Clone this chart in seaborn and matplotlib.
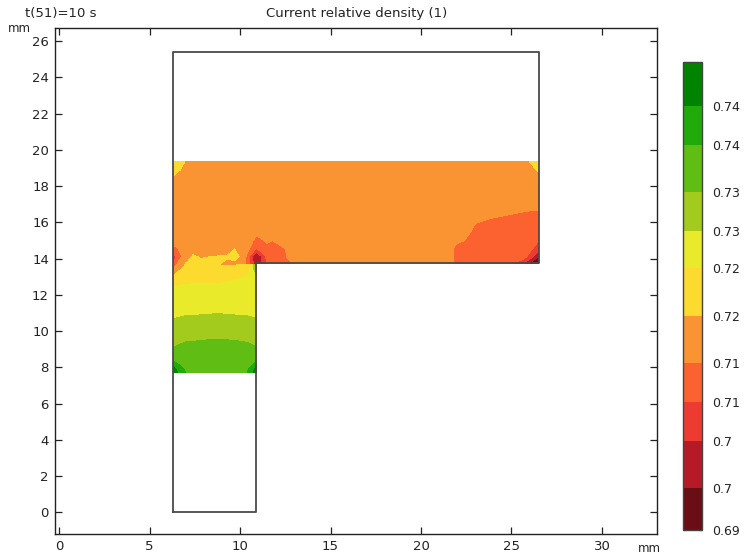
import matplotlib
matplotlib.use('Agg')
import matplotlib.pyplot as plt
from matplotlib.colors import BoundaryNorm, ListedColormap
import numpy as np
import seaborn as sns

sns.set_theme(style='ticks')

# contour levels and the colours between them
levels = [0.6932, 0.6982, 0.7037, 0.7084, 0.713, 0.7186, 0.7243, 0.7287, 0.7333, 0.7389, 0.7435, 0.7487]
band_colors = ['#6b0d14', '#b71a27', '#ee3b32', '#fb6230', '#fa9332', '#fddb2e',
               '#e9ea2a', '#a2cb1e', '#5fbd14', '#20ab0a', '#008400']
tick_values = [0.6932, 0.6982, 0.7037, 0.7084, 0.713, 0.7186, 0.7243, 0.7287, 0.7333, 0.7389, 0.7435]
tick_labels = ['0.69', '0.7', '0.7', '0.71', '0.71', '0.72', '0.72', '0.73', '0.73', '0.74', '0.74']

# part outline, mm
outline_x = [6.3, 10.9, 10.9, 26.5, 26.5, 6.3, 6.3]
outline_y = [0, 0, 13.75, 13.75, 25.4, 25.4, 0]

# density in the vertical leg
leg_x = [6.3, 6.6, 7, 7.5, 8, 8.5, 9, 9.5, 10, 10.4, 10.7, 10.9]
leg_y = [7.73, 8.0, 8.3, 8.7, 9.1, 9.5, 10.4, 10.9, 11.5, 12.0, 12.5, 13.0, 13.4, 13.75]
leg_density = [
    [.748, .743, .739, .7365, .7362, .7362, .7362, .7362, .7365, .739, .743, .748],
    [.7445, .7405, .7375, .7365, .7365, .7365, .7365, .7365, .7365, .7375, .7405, .7445],
    [.7395, .7375, .7365, .7365, .7365, .7365, .7365, .7365, .7365, .7365, .7375, .7395],
    [.735, .7355, .736, .7365, .7365, .7365, .7365, .7365, .7365, .736, .7355, .735],
    [.7333, .734, .735, .7352, .7355, .7355, .7355, .7355, .7352, .735, .734, .7333],
    [.7315, .732, .7328, .733, .7333, .7334, .7334, .7333, .733, .7325, .732, .7315],
    [.7295, .73, .7305, .7308, .731, .731, .731, .731, .7305, .7302, .73, .7295],
    [.728, .7282, .7285, .7286, .7287, .7288, .7288, .7287, .7286, .7285, .7282, .728],
    [.7265, .727, .7275, .7275, .7275, .7275, .7275, .7275, .7275, .7275, .727, .7265],
    [.7255, .726, .7262, .7265, .7265, .7265, .7265, .7265, .7265, .7265, .7265, .7265],
    [.7241, .7245, .7248, .7248, .7248, .7248, .7248, .725, .7252, .7255, .7255, .7258],
    [.7188, .7205, .722, .7225, .7228, .723, .7232, .7235, .724, .7243, .7255, .7265],
    [.7125, .718, .7195, .7215, .7215, .7215, .7205, .72, .721, .7225, .727, .733],
    [.708, .715, .7185, .7205, .7195, .72, .7175, .7175, .718, .72, .7245, .736],
]

# density in the horizontal bar
bar_x = [6.3, 6.7, 7.1, 7.4, 7.8, 8.5, 9.3, 9.7, 10.1, 10.4, 10.9, 11.5, 11.8, 12.5, 13.1, 21.4, 21.9, 23, 24.5, 25.6, 26.0, 26.5]
bar_y = [13.75, 14.1, 14.5, 15.0, 15.5, 16.2, 16.8, 18.4, 18.9, 19.35]
bar_density = [
    [.708, .716, .7195, .721, .7195, .72, .7175, .7175, .718, .711, .7, .709, .7115, .712, .7135, .716, .712, .711, .711, .706, .6975, .694],
    [.706, .712, .716, .7195, .7182, .7188, .7192, .7205, .7175, .7115, .697, .71, .7125, .7128, .7155, .716, .712, .712, .711, .7105, .707, .698],
    [.7095, .714, .716, .7165, .716, .716, .7165, .7188, .716, .7145, .7075, .712, .712, .7128, .716, .716, .712, .712, .7115, .7115, .7095, .7055],
    [.7155, .716, .716, .716, .716, .716, .716, .716, .716, .716, .7115, .7135, .713, .715, .716, .716, .7138, .712, .7115, .7115, .7115, .7084],
    [.716, .716, .716, .716, .716, .716, .716, .716, .716, .716, .7145, .716, .716, .716, .716, .716, .716, .7122, .712, .712, .7118, .7115],
    [.716, .716, .716, .716, .716, .716, .716, .716, .716, .716, .716, .716, .716, .716, .716, .716, .716, .7135, .7125, .7122, .7122, .7122],
    [.716, .716, .716, .716, .716, .716, .716, .716, .716, .716, .716, .716, .716, .716, .716, .716, .716, .716, .7145, .7135, .7133, .7133],
    [.718, .7165, .716, .716, .716, .716, .716, .716, .716, .716, .716, .716, .716, .716, .716, .716, .716, .716, .716, .716, .716, .7165],
    [.7205, .7186, .716, .716, .716, .716, .716, .716, .716, .716, .716, .716, .716, .716, .716, .716, .716, .716, .716, .716, .7165, .7195],
    [.723, .7205, .7175, .716, .716, .716, .716, .716, .716, .716, .716, .716, .716, .716, .716, .716, .716, .716, .716, .716, .7186, .723],
]

x_ticks = [0, 5, 10, 15, 20, 25, 30]
y_ticks = list(range(0, 27, 2))

plt.rcParams['font.family'] = ['DejaVu Sans']
plt.rcParams['text.color'] = '#222222'

fig = plt.figure(figsize=(7.44, 5.58), dpi=100)
ax = fig.add_axes([54.5 / 744, 1 - 534 / 558, (657 - 54.5) / 744, (534 - 28) / 558])
cax = fig.add_axes([683 / 744, 1 - 530 / 558, 19 / 744, 468 / 558])

cmap = ListedColormap(sns.color_palette(band_colors))
norm = BoundaryNorm(levels, cmap.N)

ax.contourf(leg_x, leg_y, np.array(leg_density), levels=levels, cmap=cmap, norm=norm, extend='both')
ax.contourf(bar_x, bar_y, np.array(bar_density), levels=levels, cmap=cmap, norm=norm, extend='both')

sns.lineplot(x=outline_x, y=outline_y, sort=False, estimator=None, color='#4a4a4a', linewidth=1.3, ax=ax)

ax.set_xlim(-0.25, 33.04)
ax.set_ylim(-1.2, 26.73)
ax.set_xticks(x_ticks)
ax.set_yticks(y_ticks)
ax.tick_params(direction='in', length=5, width=0.9, labelsize=9.5, top=True, right=True,
               color='#222222', labelcolor='#222222', pad=4)
for side in ax.spines.values():
    side.set_linewidth(1.0)
    side.set_color('#222222')

sm = plt.cm.ScalarMappable(norm=norm, cmap=cmap)
cb = fig.colorbar(sm, cax=cax, spacing='proportional', ticks=tick_values)
cb.ax.minorticks_off()
cb.ax.set_yticklabels(tick_labels)
cb.ax.tick_params(direction='in', length=2, width=0.8, labelsize=9, left=True, right=True, pad=7,
                  color='#222222', labelcolor='#222222')
cb.outline.set_linewidth(1.0)
cb.outline.set_edgecolor('#444444')

fig.text(357 / 744, 1 - 14 / 558, 'Current relative density (1)', ha='center', va='center', fontsize=9.5)
fig.text(25 / 744, 1 - 14 / 558, 't(51)=10 s', ha='left', va='center', fontsize=9.5)
fig.text(8 / 744, 1 - 28.5 / 558, 'mm', ha='left', va='center', fontsize=8.5)
fig.text(638 / 744, 1 - 549 / 558, 'mm', ha='left', va='center', fontsize=8.5)

fig.savefig('out.png', dpi=100)
